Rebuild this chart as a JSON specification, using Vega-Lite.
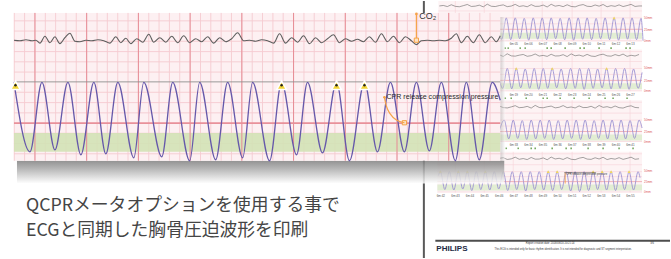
{
"$schema":"https://vega.github.io/schema/vega-lite/v6.json",
"width":671,"height":259,
"autosize":{"type":"fit","contains":"padding"},
"padding":0,
"background":"#ffffff",
"config":{"view":{"stroke":null},"text":{"font":"Liberation Sans"}},
"datasets":{
"stripBg":[{"x":439,"x2":643,"y":0,"y2":41},{"x":439,"x2":643,"y":49,"y2":91},{"x":439,"x2":643,"y":100,"y2":142},{"x":438,"x2":643,"y":152,"y2":193}],
"stripH":[{"x":439,"x2":643,"y":10},{"x":439,"x2":643,"y":17},{"x":439,"x2":643,"y":23},{"x":439,"x2":643,"y":40},
{"x":439,"x2":643,"y":51},{"x":439,"x2":643,"y":61},{"x":439,"x2":643,"y":68},{"x":439,"x2":643,"y":74},{"x":439,"x2":643,"y":90.5},
{"x":439,"x2":643,"y":102},{"x":439,"x2":643,"y":113},{"x":439,"x2":643,"y":120},{"x":439,"x2":643,"y":126},{"x":439,"x2":643,"y":141.5},
{"x":438,"x2":643,"y":154},{"x":438,"x2":643,"y":165},{"x":438,"x2":643,"y":172},{"x":438,"x2":643,"y":177},{"x":438,"x2":643,"y":192.5}],
"stripV":[{"x":456,"y":0,"y2":41},{"x":485,"y":0,"y2":41},{"x":514,"y":0,"y2":41},{"x":543,"y":0,"y2":41},{"x":573,"y":0,"y2":41},{"x":602,"y":0,"y2":41},{"x":631,"y":0,"y2":41},
{"x":456,"y":49,"y2":91},{"x":485,"y":49,"y2":91},{"x":514,"y":49,"y2":91},{"x":543,"y":49,"y2":91},{"x":573,"y":49,"y2":91},{"x":602,"y":49,"y2":91},{"x":631,"y":49,"y2":91},
{"x":456,"y":100,"y2":142},{"x":485,"y":100,"y2":142},{"x":514,"y":100,"y2":142},{"x":543,"y":100,"y2":142},{"x":573,"y":100,"y2":142},{"x":602,"y":100,"y2":142},{"x":631,"y":100,"y2":142},
{"x":456,"y":152,"y2":193},{"x":485,"y":152,"y2":193},{"x":514,"y":152,"y2":193},{"x":543,"y":152,"y2":193},{"x":573,"y":152,"y2":193},{"x":602,"y":152,"y2":193},{"x":631,"y":152,"y2":193}],
"stripGreen":[{"x":439,"x2":643,"y":32,"y2":38},{"x":439,"x2":643,"y":83,"y2":89},{"x":439,"x2":643,"y":134.5,"y2":140.5},{"x":438,"x2":643,"y":185,"y2":191}],
"stripRed":[{"x":439,"x2":643,"y":28.5},{"x":439,"x2":643,"y":80},{"x":439,"x2":643,"y":131.5},{"x":438,"x2":643,"y":182}],
"stripEcg":[
{"s":1,"x":440,"y":5},{"s":1,"x":444,"y":4.5},{"s":1,"x":448,"y":5.6},{"s":1,"x":452,"y":3.8},{"s":1,"x":456,"y":5.4},{"s":1,"x":460,"y":5.8},{"s":1,"x":464,"y":4.7},{"s":1,"x":468,"y":3.5},{"s":1,"x":472,"y":5.5},{"s":1,"x":476,"y":5.2},{"s":1,"x":480,"y":4.2},{"s":1,"x":484,"y":5.9},{"s":1,"x":488,"y":3.2},{"s":1,"x":492,"y":5.3},{"s":1,"x":496,"y":5.6},{"s":1,"x":500,"y":4.6},{"s":1,"x":504,"y":3.9},{"s":1,"x":508,"y":5.7},{"s":1,"x":512,"y":5.1},{"s":1,"x":516,"y":3.4},{"s":1,"x":520,"y":5.5},{"s":1,"x":524,"y":4.8},{"s":1,"x":528,"y":5.8},{"s":1,"x":532,"y":3.7},{"s":1,"x":536,"y":5.4},{"s":1,"x":540,"y":5.3},{"s":1,"x":544,"y":4.1},{"s":1,"x":548,"y":6},{"s":1,"x":552,"y":3.3},{"s":1,"x":556,"y":5.2},{"s":1,"x":560,"y":4.5},{"s":1,"x":564,"y":5.7},{"s":1,"x":568,"y":3.8},{"s":1,"x":572,"y":5.5},{"s":1,"x":576,"y":5.9},{"s":1,"x":580,"y":4.4},{"s":1,"x":584,"y":3.6},{"s":1,"x":588,"y":5.3},{"s":1,"x":592,"y":5.6},{"s":1,"x":596,"y":4},{"s":1,"x":600,"y":5.2},{"s":1,"x":604,"y":3.5},{"s":1,"x":608,"y":5.8},{"s":1,"x":612,"y":4.7},{"s":1,"x":616,"y":5.4},{"s":1,"x":620,"y":3.9},{"s":1,"x":624,"y":5.6},{"s":1,"x":628,"y":4.6},{"s":1,"x":632,"y":3.4},{"s":1,"x":636,"y":5.5},{"s":1,"x":640,"y":5},{"s":1,"x":643,"y":5},
{"s":2,"x":500,"y":54.2},{"s":2,"x":504,"y":55.9},{"s":2,"x":508,"y":53.2},{"s":2,"x":512,"y":55.3},{"s":2,"x":516,"y":55.6},{"s":2,"x":520,"y":54.6},{"s":2,"x":524,"y":53.9},{"s":2,"x":528,"y":55.7},{"s":2,"x":532,"y":55.1},{"s":2,"x":536,"y":53.4},{"s":2,"x":540,"y":55.5},{"s":2,"x":544,"y":54.8},{"s":2,"x":548,"y":55.8},{"s":2,"x":552,"y":53.7},{"s":2,"x":556,"y":55.4},{"s":2,"x":560,"y":55.3},{"s":2,"x":564,"y":54.1},{"s":2,"x":568,"y":56},{"s":2,"x":572,"y":53.3},{"s":2,"x":576,"y":55.2},{"s":2,"x":580,"y":54.5},{"s":2,"x":584,"y":55.7},{"s":2,"x":588,"y":53.8},{"s":2,"x":592,"y":55.5},{"s":2,"x":596,"y":55.9},{"s":2,"x":600,"y":54.4},{"s":2,"x":604,"y":53.6},{"s":2,"x":608,"y":55.3},{"s":2,"x":612,"y":55.6},{"s":2,"x":616,"y":54},{"s":2,"x":620,"y":55.2},{"s":2,"x":624,"y":53.5},{"s":2,"x":628,"y":55.8},{"s":2,"x":632,"y":54.7},{"s":2,"x":636,"y":55.4},{"s":2,"x":640,"y":53.9},
{"s":3,"x":500,"y":105.8},{"s":3,"x":504,"y":107.4},{"s":3,"x":508,"y":107.8},{"s":3,"x":512,"y":106.7},{"s":3,"x":516,"y":105.5},{"s":3,"x":520,"y":107.5},{"s":3,"x":524,"y":107.2},{"s":3,"x":528,"y":106.2},{"s":3,"x":532,"y":107.9},{"s":3,"x":536,"y":105.2},{"s":3,"x":540,"y":107.3},{"s":3,"x":544,"y":107.6},{"s":3,"x":548,"y":106.6},{"s":3,"x":552,"y":105.9},{"s":3,"x":556,"y":107.7},{"s":3,"x":560,"y":107.1},{"s":3,"x":564,"y":105.4},{"s":3,"x":568,"y":107.5},{"s":3,"x":572,"y":106.8},{"s":3,"x":576,"y":107.8},{"s":3,"x":580,"y":105.7},{"s":3,"x":584,"y":107.4},{"s":3,"x":588,"y":107.3},{"s":3,"x":592,"y":106.1},{"s":3,"x":596,"y":108},{"s":3,"x":600,"y":105.3},{"s":3,"x":604,"y":107.2},{"s":3,"x":608,"y":106.5},{"s":3,"x":612,"y":107.7},{"s":3,"x":616,"y":105.8},{"s":3,"x":620,"y":107.5},{"s":3,"x":624,"y":107.9},{"s":3,"x":628,"y":106.4},{"s":3,"x":632,"y":105.6},{"s":3,"x":636,"y":107.3},{"s":3,"x":640,"y":107.6},
{"s":4,"x":500,"y":158.6},{"s":4,"x":504,"y":157.9},{"s":4,"x":508,"y":159.7},{"s":4,"x":512,"y":159.1},{"s":4,"x":516,"y":157.4},{"s":4,"x":520,"y":159.5},{"s":4,"x":524,"y":158.8},{"s":4,"x":528,"y":159.8},{"s":4,"x":532,"y":157.7},{"s":4,"x":536,"y":159.4},{"s":4,"x":540,"y":159.3},{"s":4,"x":544,"y":158.1},{"s":4,"x":548,"y":160},{"s":4,"x":552,"y":157.3},{"s":4,"x":556,"y":159.2},{"s":4,"x":560,"y":158.5},{"s":4,"x":564,"y":159.7},{"s":4,"x":568,"y":157.8},{"s":4,"x":572,"y":159.5},{"s":4,"x":576,"y":159.9},{"s":4,"x":580,"y":158.4},{"s":4,"x":584,"y":157.6},{"s":4,"x":588,"y":159.3},{"s":4,"x":592,"y":159.6},{"s":4,"x":596,"y":158},{"s":4,"x":600,"y":159.2},{"s":4,"x":604,"y":157.5},{"s":4,"x":608,"y":159.8},{"s":4,"x":612,"y":158.7},{"s":4,"x":616,"y":159.4},{"s":4,"x":620,"y":157.9},{"s":4,"x":624,"y":159.6},{"s":4,"x":628,"y":158.6},{"s":4,"x":632,"y":157.4},{"s":4,"x":636,"y":159.5},{"s":4,"x":640,"y":159}],
"stripWave":[
{"s":1,"x":500,"y":35},{"s":1,"x":502.5,"y":38.5},{"s":1,"x":507,"y":17},{"s":1,"x":511.5,"y":39},{"s":1,"x":516,"y":17},{"s":1,"x":520.5,"y":38},{"s":1,"x":525,"y":17.5},{"s":1,"x":529.5,"y":39.5},{"s":1,"x":534,"y":17},{"s":1,"x":538.5,"y":38.5},{"s":1,"x":543,"y":17},{"s":1,"x":547.5,"y":39},{"s":1,"x":552,"y":17},{"s":1,"x":556.5,"y":38},{"s":1,"x":561,"y":17.5},{"s":1,"x":565.5,"y":39},{"s":1,"x":570,"y":17},{"s":1,"x":574.5,"y":39.5},{"s":1,"x":579,"y":17},{"s":1,"x":583.5,"y":38.5},{"s":1,"x":588,"y":17},{"s":1,"x":592.5,"y":39},{"s":1,"x":597,"y":17.5},{"s":1,"x":601.5,"y":38},{"s":1,"x":606,"y":17},{"s":1,"x":610.5,"y":39},{"s":1,"x":615,"y":17},{"s":1,"x":619.5,"y":39.5},{"s":1,"x":624,"y":17},{"s":1,"x":628.5,"y":38.5},{"s":1,"x":633,"y":17},{"s":1,"x":637.5,"y":39},{"s":1,"x":642,"y":17.5},{"s":1,"x":644,"y":40},
{"s":2,"x":500,"y":80},{"s":2,"x":503.5,"y":88},{"s":2,"x":508,"y":68},{"s":2,"x":512.5,"y":88.5},{"s":2,"x":517,"y":68},{"s":2,"x":521.5,"y":87.5},{"s":2,"x":526,"y":68.5},{"s":2,"x":530.5,"y":88},{"s":2,"x":535,"y":68},{"s":2,"x":539.5,"y":89},{"s":2,"x":544,"y":68},{"s":2,"x":548.5,"y":88},{"s":2,"x":553,"y":68},{"s":2,"x":557.5,"y":87.5},{"s":2,"x":562,"y":68.5},{"s":2,"x":566.5,"y":88.5},{"s":2,"x":571.5,"y":68},{"s":2,"x":576,"y":88},{"s":2,"x":580.5,"y":68},{"s":2,"x":585,"y":89},{"s":2,"x":589.5,"y":68},{"s":2,"x":594,"y":88},{"s":2,"x":598.5,"y":68.5},{"s":2,"x":603,"y":87.5},{"s":2,"x":607.5,"y":68},{"s":2,"x":612,"y":88.5},{"s":2,"x":616.5,"y":68},{"s":2,"x":621,"y":88},{"s":2,"x":625.5,"y":68},{"s":2,"x":630,"y":89},{"s":2,"x":634.5,"y":68.5},{"s":2,"x":639,"y":88},{"s":2,"x":643,"y":72},
{"s":3,"x":500,"y":131},{"s":3,"x":505,"y":120},{"s":3,"x":509.5,"y":139},{"s":3,"x":514,"y":120},{"s":3,"x":518.5,"y":138.5},{"s":3,"x":523,"y":120.5},{"s":3,"x":527.5,"y":139.5},{"s":3,"x":532,"y":120},{"s":3,"x":536.5,"y":139},{"s":3,"x":541,"y":120},{"s":3,"x":545.5,"y":138.5},{"s":3,"x":550,"y":120},{"s":3,"x":554.5,"y":139.5},{"s":3,"x":559,"y":120.5},{"s":3,"x":563.5,"y":139},{"s":3,"x":568,"y":120},{"s":3,"x":572.5,"y":138.5},{"s":3,"x":577,"y":120},{"s":3,"x":581.5,"y":139.5},{"s":3,"x":586,"y":120},{"s":3,"x":590.5,"y":139},{"s":3,"x":595,"y":120.5},{"s":3,"x":599.5,"y":138.5},{"s":3,"x":604,"y":120},{"s":3,"x":608.5,"y":139},{"s":3,"x":613,"y":120},{"s":3,"x":617.5,"y":139.5},{"s":3,"x":622,"y":120},{"s":3,"x":626.5,"y":139},{"s":3,"x":631,"y":120.5},{"s":3,"x":635.5,"y":138.5},{"s":3,"x":640,"y":120},{"s":3,"x":643,"y":128},
{"s":4,"x":439,"y":176},{"s":4,"x":441,"y":172},{"s":4,"x":445.5,"y":190},{"s":4,"x":450,"y":172},{"s":4,"x":454.5,"y":190.5},{"s":4,"x":459,"y":172},{"s":4,"x":463.5,"y":189.5},{"s":4,"x":468,"y":172},{"s":4,"x":472.5,"y":191},{"s":4,"x":477,"y":172},{"s":4,"x":481.5,"y":190},{"s":4,"x":486,"y":172},{"s":4,"x":490.5,"y":190.5},{"s":4,"x":495,"y":172},{"s":4,"x":499.5,"y":189.5},{"s":4,"x":504,"y":172},{"s":4,"x":508.5,"y":191},{"s":4,"x":513,"y":172},{"s":4,"x":517.5,"y":190},{"s":4,"x":522,"y":172},{"s":4,"x":526.5,"y":191.5},{"s":4,"x":531,"y":172},{"s":4,"x":535.5,"y":190},{"s":4,"x":540,"y":172},{"s":4,"x":544.5,"y":190.5},{"s":4,"x":549,"y":172},{"s":4,"x":553.5,"y":191},{"s":4,"x":558,"y":172},{"s":4,"x":562.5,"y":190},{"s":4,"x":567,"y":172},{"s":4,"x":571.5,"y":191.5},{"s":4,"x":576,"y":172},{"s":4,"x":580.5,"y":192},{"s":4,"x":585,"y":172},{"s":4,"x":589.5,"y":191},{"s":4,"x":594,"y":172},{"s":4,"x":598.5,"y":190},{"s":4,"x":603,"y":172},{"s":4,"x":607.5,"y":190.5},{"s":4,"x":612,"y":172},{"s":4,"x":616.5,"y":191},{"s":4,"x":621,"y":172},{"s":4,"x":625.5,"y":190},{"s":4,"x":630,"y":172},{"s":4,"x":634.5,"y":190.5},{"s":4,"x":639,"y":172},{"s":4,"x":641,"y":178}],
"stripMarks":[{"x":615,"y":17},{"x":517,"y":68},{"x":553,"y":68},{"x":607.5,"y":68},{"x":441,"y":172},{"x":459,"y":172},{"x":468,"y":172},{"x":486,"y":172},{"x":549,"y":172},{"x":558,"y":172},{"x":594,"y":172},{"x":603,"y":172},{"x":612,"y":172},{"x":630,"y":172}],
"stripLabels":[
{"x":514.6,"y":43.5,"t":"6m:05"},{"x":529.2,"y":43.5,"t":"6m:06"},{"x":543.8,"y":43.5,"t":"6m:07"},{"x":558.4,"y":43.5,"t":"6m:08"},{"x":573,"y":43.5,"t":"6m:09"},{"x":587.6,"y":43.5,"t":"6m:10"},{"x":602.2,"y":43.5,"t":"6m:11"},{"x":616.8,"y":43.5,"t":"6m:12"},{"x":631.4,"y":43.5,"t":"6m:13"},
{"x":514.6,"y":94,"t":"6m:19"},{"x":529.2,"y":94,"t":"6m:20"},{"x":543.8,"y":94,"t":"6m:21"},{"x":558.4,"y":94,"t":"6m:22"},{"x":573,"y":94,"t":"6m:23"},{"x":587.6,"y":94,"t":"6m:24"},{"x":602.2,"y":94,"t":"6m:25"},{"x":616.8,"y":94,"t":"6m:26"},{"x":631.4,"y":94,"t":"6m:27"},
{"x":514.6,"y":144.5,"t":"6m:33"},{"x":529.2,"y":144.5,"t":"6m:34"},{"x":543.8,"y":144.5,"t":"6m:35"},{"x":558.4,"y":144.5,"t":"6m:36"},{"x":573,"y":144.5,"t":"6m:37"},{"x":587.6,"y":144.5,"t":"6m:38"},{"x":602.2,"y":144.5,"t":"6m:39"},{"x":616.8,"y":144.5,"t":"6m:40"},{"x":631.4,"y":144.5,"t":"6m:41"},
{"x":441.5,"y":196,"t":"6m:42"},{"x":456.1,"y":196,"t":"6m:43"},{"x":470.7,"y":196,"t":"6m:44"},{"x":485.3,"y":196,"t":"6m:45"},{"x":500,"y":196,"t":"6m:46"},{"x":514.6,"y":196,"t":"6m:47"},{"x":529.2,"y":196,"t":"6m:48"},{"x":543.8,"y":196,"t":"6m:49"},{"x":558.4,"y":196,"t":"6m:50"},{"x":573,"y":196,"t":"6m:51"},{"x":587.6,"y":196,"t":"6m:52"},{"x":602.2,"y":196,"t":"6m:53"},{"x":616.8,"y":196,"t":"6m:54"},{"x":631.4,"y":196,"t":"6m:55"}],
"greenDots":[{"x":506,"y":47.5},{"x":509,"y":47.5},{"x":521,"y":47.5},{"x":526,"y":47.5},{"x":548,"y":47.5},{"x":552,"y":47.5},{"x":566,"y":47.5},{"x":581,"y":47.5},{"x":585,"y":47.5},{"x":600,"y":47.5},{"x":612,"y":47.5},{"x":627,"y":47.5},{"x":631,"y":47.5},
{"x":506,"y":98},{"x":512,"y":98},{"x":527,"y":98},{"x":544,"y":98},{"x":548,"y":98},{"x":561,"y":98},{"x":575,"y":98},{"x":590,"y":98},{"x":606,"y":98},{"x":614,"y":98},{"x":628,"y":98},
{"x":507,"y":148.5},{"x":519,"y":148.5},{"x":532,"y":148.5},{"x":536,"y":148.5},{"x":553,"y":148.5},{"x":567,"y":148.5},{"x":572,"y":148.5},{"x":589,"y":148.5},{"x":604,"y":148.5},{"x":620,"y":148.5},{"x":634,"y":148.5}],
"redLabels":[{"x":645,"y":16.5,"t":"50mm"},{"x":645,"y":28.5,"t":"25mm"},{"x":645,"y":40,"t":"0mm"},
{"x":645,"y":67.5,"t":"50mm"},{"x":645,"y":80,"t":"25mm"},{"x":645,"y":90.5,"t":"0mm"},
{"x":645,"y":119.5,"t":"50mm"},{"x":645,"y":131.5,"t":"25mm"},{"x":645,"y":141.5,"t":"0mm"},
{"x":645,"y":171.5,"t":"50mm"},{"x":645,"y":182,"t":"25mm"},{"x":645,"y":192.5,"t":"0mm"}],
"gridV":[{"x":14.3,"y":12,"y2":161},{"x":24.6,"y":12,"y2":161},{"x":35,"y":12,"y2":161},{"x":45.4,"y":12,"y2":161},{"x":55.7,"y":12,"y2":161},{"x":66.1,"y":12,"y2":161},{"x":76.4,"y":12,"y2":161},{"x":86.8,"y":12,"y2":161},{"x":97.2,"y":12,"y2":161},{"x":107.5,"y":12,"y2":161},{"x":117.9,"y":12,"y2":161},{"x":128.2,"y":12,"y2":161},{"x":138.6,"y":12,"y2":161},{"x":149,"y":12,"y2":161},{"x":159.3,"y":12,"y2":161},{"x":169.7,"y":12,"y2":161},{"x":180,"y":12,"y2":161},{"x":190.4,"y":12,"y2":161},{"x":200.8,"y":12,"y2":161},{"x":211.1,"y":12,"y2":161},{"x":221.5,"y":12,"y2":161},{"x":231.8,"y":12,"y2":161},{"x":242.2,"y":12,"y2":161},{"x":252.6,"y":12,"y2":161},{"x":262.9,"y":12,"y2":161},{"x":273.3,"y":12,"y2":161},{"x":283.6,"y":12,"y2":161},{"x":294,"y":12,"y2":161},{"x":304.4,"y":12,"y2":161},{"x":314.7,"y":12,"y2":161},{"x":325.1,"y":12,"y2":161},{"x":335.4,"y":12,"y2":161},{"x":345.8,"y":12,"y2":161},{"x":356.2,"y":12,"y2":161},{"x":366.5,"y":12,"y2":161},{"x":376.9,"y":12,"y2":161},{"x":387.2,"y":12,"y2":161},{"x":397.6,"y":12,"y2":161},{"x":408,"y":12,"y2":161},{"x":418.3,"y":12,"y2":161},{"x":428.7,"y":12,"y2":161},{"x":439,"y":12,"y2":161},{"x":449.4,"y":12,"y2":161},{"x":459.8,"y":12,"y2":161},{"x":470.1,"y":12,"y2":161},{"x":480.5,"y":12,"y2":161},{"x":490.8,"y":12,"y2":161}],
"gridMajor":[{"x":35,"y":12,"y2":161},{"x":86.8,"y":12,"y2":161},{"x":138.6,"y":12,"y2":161},{"x":190.4,"y":12,"y2":161},{"x":242.2,"y":12,"y2":161},{"x":294,"y":12,"y2":161},{"x":345.8,"y":12,"y2":161},{"x":397.6,"y":12,"y2":161},{"x":449.4,"y":12,"y2":161}],
"gridH":[{"y":20,"x":14,"x2":501},{"y":30.3,"x":14,"x2":501},{"y":40.6,"x":14,"x2":501},{"y":51,"x":14,"x2":501},{"y":61.3,"x":14,"x2":501},{"y":71.6,"x":14,"x2":501},{"y":92,"x":14,"x2":501},{"y":102.4,"x":14,"x2":501},{"y":112.7,"x":14,"x2":501},{"y":133.3,"x":14,"x2":501},{"y":143.6,"x":14,"x2":501},{"y":154,"x":14,"x2":501}],
"ecg":[{"x":14,"y":39.5},{"x":20,"y":40},{"x":26,"y":39},{"x":32,"y":40},{"x":36,"y":39.5},{"x":40,"y":42.5},{"x":45,"y":35.5},{"x":50,"y":42},{"x":55,"y":36},{"x":60,"y":43},{"x":65,"y":37},{"x":70,"y":32.5},{"x":75,"y":40.5},{"x":80,"y":41},{"x":86,"y":39.5},{"x":92,"y":40},{"x":98,"y":39},{"x":104,"y":40},{"x":110,"y":42.5},{"x":116,"y":36},{"x":121,"y":42},{"x":126,"y":37.5},{"x":131,"y":43},{"x":137,"y":38},{"x":143,"y":41.5},{"x":149,"y":33.5},{"x":154,"y":41.5},{"x":160,"y":37},{"x":166,"y":41.5},{"x":172,"y":35.5},{"x":178,"y":42},{"x":184,"y":35},{"x":190,"y":42},{"x":196,"y":38},{"x":202,"y":41},{"x":208,"y":36},{"x":214,"y":42.5},{"x":220,"y":37},{"x":226,"y":41},{"x":232,"y":38},{"x":238,"y":32},{"x":244,"y":40},{"x":250,"y":39.5},{"x":256,"y":40.5},{"x":262,"y":39},{"x":268,"y":40},{"x":274,"y":42.5},{"x":280,"y":33},{"x":286,"y":42.5},{"x":292,"y":37},{"x":298,"y":41.5},{"x":304,"y":35},{"x":310,"y":43},{"x":316,"y":37},{"x":322,"y":42},{"x":328,"y":38},{"x":334,"y":34},{"x":340,"y":42},{"x":346,"y":38},{"x":352,"y":40.5},{"x":358,"y":38.5},{"x":364,"y":41},{"x":370,"y":36},{"x":376,"y":41.5},{"x":382,"y":33},{"x":388,"y":41},{"x":394,"y":35.5},{"x":400,"y":42},{"x":406,"y":36},{"x":412,"y":40},{"x":417,"y":44},{"x":422,"y":40},{"x":428,"y":39.5},{"x":434,"y":40},{"x":440,"y":39.5},{"x":446,"y":40},{"x":452,"y":37.5},{"x":457,"y":33},{"x":462,"y":42},{"x":468,"y":35.5},{"x":474,"y":42},{"x":480,"y":34},{"x":486,"y":42},{"x":492,"y":36},{"x":497,"y":41},{"x":501,"y":35}],
"wave":[{"x":14,"y":82},{"x":30,"y":152},{"x":42,"y":82},{"x":55,"y":150},{"x":68,"y":82},{"x":81,"y":155},{"x":94,"y":82},{"x":106,"y":154},{"x":118,"y":82},{"x":134,"y":158},{"x":144,"y":82},{"x":162,"y":157},{"x":173,"y":82},{"x":190,"y":161},{"x":200,"y":82},{"x":216,"y":160},{"x":228,"y":82},{"x":243,"y":158},{"x":253,"y":82},{"x":270,"y":161},{"x":282,"y":82},{"x":297,"y":155},{"x":308,"y":82},{"x":323,"y":153},{"x":337,"y":82},{"x":350,"y":161},{"x":365,"y":82},{"x":378,"y":152},{"x":391,"y":82},{"x":405,"y":152},{"x":417,"y":82},{"x":430,"y":151},{"x":442,"y":82},{"x":456,"y":161},{"x":467,"y":82},{"x":480,"y":160},{"x":493,"y":82},{"x":501,"y":100}],
"marks":[{"x":15.5,"y":85},{"x":282,"y":85},{"x":337,"y":85},{"x":365,"y":85}],
"cprCurve":[{"x":385,"y":97},{"x":387,"y":106},{"x":391,"y":114},{"x":397,"y":120},{"x":405,"y":122.7}]
},
"encoding":{
"x":{"field":"x","type":"quantitative","scale":{"domain":[0,671],"nice":false,"zero":false},"axis":null},
"y":{"field":"y","type":"quantitative","scale":{"domain":[0,259],"reverse":true,"nice":false,"zero":false},"axis":null}
},
"layer":[
{"data":{"name":"stripBg"},"mark":{"type":"rect","fill":"#fdf3f4"},"encoding":{"x2":{"field":"x2"},"y2":{"field":"y2"}}},
{"data":{"name":"stripH"},"mark":{"type":"rule","color":"#f6d2d6","strokeWidth":0.6},"encoding":{"x2":{"field":"x2"}}},
{"data":{"name":"stripV"},"mark":{"type":"rule","color":"#f6d2d6","strokeWidth":0.6},"encoding":{"y2":{"field":"y2"}}},
{"data":{"name":"stripGreen"},"mark":{"type":"rect","fill":"#e2edd3"},"encoding":{"x2":{"field":"x2"},"y2":{"field":"y2"}}},
{"data":{"name":"stripRed"},"mark":{"type":"rule","color":"#eca3aa","strokeWidth":0.8},"encoding":{"x2":{"field":"x2"}}},
{"data":{"name":"stripEcg"},"mark":{"type":"line","color":"#666666","strokeWidth":0.6},"encoding":{"detail":{"field":"s"}}},
{"data":{"name":"stripWave"},"mark":{"type":"line","color":"#9d93d3","strokeWidth":0.9,"interpolate":"monotone"},"encoding":{"detail":{"field":"s"}}},
{"data":{"name":"stripMarks"},"mark":{"type":"point","shape":"triangle-up","filled":true,"color":"#f0d860","size":9,"opacity":1}},
{"data":{"name":"stripLabels"},"mark":{"type":"text","fontSize":3,"color":"#555555","align":"center","baseline":"middle"},"encoding":{"text":{"field":"t"}}},
{"data":{"name":"greenDots"},"mark":{"type":"square","color":"#78a862","size":2.5,"opacity":1}},
{"data":{"name":"redLabels"},"mark":{"type":"text","fontSize":3,"color":"#dd5a62","align":"left","baseline":"middle"},"encoding":{"text":{"field":"t"}}},
{"data":{"values":[{"x":565,"x2":597,"y":173}]},"mark":{"type":"rule","color":"#333333","strokeWidth":0.5},"encoding":{"x2":{"field":"x2"}}},
{"data":{"values":[{"x":566,"y":173,"y2":184}]},"mark":{"type":"rule","color":"#f29a3a","strokeWidth":0.8},"encoding":{"y2":{"field":"y2"}}},
{"data":{"values":[{"x":567,"y":175,"t":"CPR release compression pressure"}]},"mark":{"type":"text","fontSize":2.6,"color":"#333333","align":"left","baseline":"middle"},"encoding":{"text":{"field":"t"}}},
{"data":{"values":[{"x":436,"x2":671,"y":241.5}]},"mark":{"type":"rule","color":"#4d4d4d","strokeWidth":2},"encoding":{"x2":{"field":"x2"}}},
{"data":{"values":[{"x":437,"y":249.5,"t":"PHILIPS"}]},"mark":{"type":"text","fontWeight":"bold","fontSize":8,"color":"#1e2a44","align":"left","baseline":"middle"},"encoding":{"text":{"field":"t"}}},
{"data":{"values":[{"x":551,"y":244.3,"t":"Report creation date: 2018/09/20 20:21:24"},{"x":564,"y":250.5,"t":"This ECG is intended only for basic rhythm identification.  It is not intended for diagnostic and ST segment interpretation."},{"x":653,"y":244.3,"t":"3/6"}]},"mark":{"type":"text","fontSize":2.6,"color":"#333333","align":"center","baseline":"middle"},"encoding":{"text":{"field":"t"}}},
{"data":{"values":[{"x":424.5,"y":0,"y2":259}]},"mark":{"type":"rule","color":"#595959","strokeWidth":2},"encoding":{"y2":{"field":"y2"}}},
{"data":{"values":[{"x":17,"x2":505,"y":161,"y2":184}]},"mark":{"type":"rect","fill":{"gradient":"linear","x1":0,"y1":0,"x2":0,"y2":1,"stops":[{"offset":0,"color":"#7f7f7f"},{"offset":0.35,"color":"#aaaaaa"},{"offset":1,"color":"#ffffff"}]},"opacity":0.85},"encoding":{"x2":{"field":"x2"},"y2":{"field":"y2"}}},
{"data":{"values":[{"x":501,"x2":506,"y":16,"y2":161}]},"mark":{"type":"rect","fill":{"gradient":"linear","x1":0,"y1":0,"x2":1,"y2":0,"stops":[{"offset":0,"color":"#9a9a9a"},{"offset":1,"color":"#ffffff"}]},"opacity":0.4},"encoding":{"x2":{"field":"x2"},"y2":{"field":"y2"}}},
{"data":{"values":[{"x":14,"x2":501,"y":12,"y2":161}]},"mark":{"type":"rect","fill":"#fdf0f2"},"encoding":{"x2":{"field":"x2"},"y2":{"field":"y2"}}},
{"data":{"name":"gridH"},"mark":{"type":"rule","color":"#f5cbd0","strokeWidth":0.9},"encoding":{"x2":{"field":"x2"}}},
{"data":{"name":"gridV"},"mark":{"type":"rule","color":"#f5cbd0","strokeWidth":0.9},"encoding":{"y2":{"field":"y2"}}},
{"data":{"values":[{"x":14,"x2":501,"y":133,"y2":152}]},"mark":{"type":"rect","fill":"#d3e2b6","opacity":0.9},"encoding":{"x2":{"field":"x2"},"y2":{"field":"y2"}}},
{"data":{"name":"gridMajor"},"mark":{"type":"rule","color":"#e68d96","strokeWidth":1},"encoding":{"y2":{"field":"y2"}}},
{"data":{"values":[{"x":14,"x2":501,"y":123}]},"mark":{"type":"rule","color":"#e8919a","strokeWidth":1.8},"encoding":{"x2":{"field":"x2"}}},
{"data":{"values":[{"x":14,"x2":501,"y":81.5}]},"mark":{"type":"rule","color":"#8e8e8e","strokeWidth":0.9},"encoding":{"x2":{"field":"x2"}}},
{"data":{"name":"ecg"},"mark":{"type":"line","color":"#5e5e5e","strokeWidth":1.1,"interpolate":"monotone"}},
{"data":{"name":"wave"},"mark":{"type":"line","color":"#6558aa","strokeWidth":1.3,"interpolate":"monotone"}},
{"data":{"name":"marks"},"mark":{"type":"point","shape":"triangle-up","filled":true,"fill":"#f2d437","stroke":"#ffffff","strokeWidth":1.5,"size":95,"opacity":1}},
{"data":{"name":"marks"},"mark":{"type":"circle","color":"#222222","size":6,"opacity":1}},
{"data":{"values":[{"x":417,"y":13,"y2":39.5}]},"mark":{"type":"rule","color":"#f5a347","strokeWidth":1.2},"encoding":{"y2":{"field":"y2"}}},
{"data":{"values":[{"x":417,"y":39.5},{"x":405,"y":122.7}]},"mark":{"type":"square","fill":"#fde2c2","stroke":"#f5a347","strokeWidth":1,"size":18,"opacity":1}},
{"data":{"values":[{"x":417,"y":13},{"x":385,"y":97}]},"mark":{"type":"circle","color":"#f5a347","size":7,"opacity":1}},
{"data":{"name":"cprCurve"},"mark":{"type":"line","color":"#f5a347","strokeWidth":1.2,"interpolate":"monotone"}},
{"data":{"values":[{"x":420,"y":15,"t":"CO₂"}]},"mark":{"type":"text","fontSize":9,"color":"#333333","align":"left","baseline":"middle"},"encoding":{"text":{"field":"t"}}},
{"data":{"values":[{"x":387,"y":97,"t":"CPR release compression pressure"}]},"mark":{"type":"text","fontSize":7.1,"color":"#2a2a2a","align":"left","baseline":"middle"},"encoding":{"text":{"field":"t"}}},
{"data":{"values":[{"x":26,"y":207,"t":"QCPRメータオプションを使用する事で"},{"x":26,"y":232,"t":"ECGと同期した胸骨圧迫波形を印刷"}]},"mark":{"type":"text","font":"Noto Sans CJK JP","fontSize":17.8,"color":"#454545","align":"left","baseline":"middle"},"encoding":{"text":{"field":"t"}}}
]
}
